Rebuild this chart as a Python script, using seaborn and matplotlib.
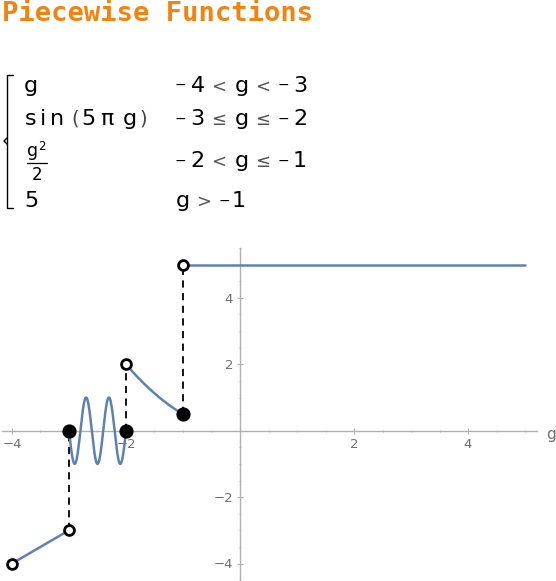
import numpy as np
import pandas as pd
import matplotlib
matplotlib.use("Agg")
import matplotlib.pyplot as plt
import seaborn as sns
from matplotlib.lines import Line2D
from matplotlib.ticker import MultipleLocator

# piece definitions (bounds, functions as printed in it)
piece_names = ["g", "sin(5πg)", "g²/2", "5"]
piece_start = [-4, -3, -2, -1]
piece_end = [-3, -2, -1, 5]
piece_funcs = [lambda g: g, lambda g: np.sin(5 * np.pi * g), lambda g: g ** 2 / 2, lambda g: 0 * g + 5]

# endpoint markers
open_x = [-4, -3, -2, -1]
open_y = [-4, -3, 2, 5]
closed_x = [-3, -2, -1]
closed_y = [0, 0, 0.5]

# jump connectors (x, y from, y to)
jump_x = [-3, -2, -1]
jump_lo = [-3, 0, 0.5]
jump_hi = [0, 2, 5]

# formula and condition text, split in tokens
value_rows = [["g"], ["s", "i", "n", "(", "5", "π", "g", ")"], None, ["5"]]
condition_rows = [["−", "4", "<", "g", "<", "−", "3"],
                  ["−", "3", "≤", "g", "≤", "−", "2"],
                  ["−", "2", "<", "g", "≤", "−", "1"],
                  ["g", ">", "−", "1"]]

line_color = "#5E81B5"
axis_gray = "#b0b0b0"
label_gray = "#6e6e6e"

rows = []
for name, a, b, f in zip(piece_names, piece_start, piece_end, piece_funcs):
    gs = np.linspace(a, b, 400)
    for gv, yv in zip(gs, f(gs)):
        rows.append({"piece": name, "g": gv, "y": yv})
curve_df = pd.DataFrame(rows)

sns.set_style("white")
W, H = 556, 581
fig = plt.figure(figsize=(W / 100, H / 100), dpi=100)


def ftext(xp, yp, s, size=16, color="black"):
    fig.text(xp / W, 1 - yp / H, s, fontsize=size, color=color, va="baseline", ha="center",
             family="DejaVu Sans")


def token(xp, base, tok):
    if tok == "−":
        ftext(xp, base - 2.5, tok, size=10)
    elif tok in "<>≤":
        ftext(xp, base, tok, size=13, color="#555555")
    elif tok in "()":
        ftext(xp, base, tok, size=14, color="#444444")
    else:
        ftext(xp, base, tok)


# title
fig.text(2 / W, 1 - 14 / H, "Piecewise Functions", family="DejaVu Sans Mono", fontweight="bold",
         fontsize=19.5, color="#F5820F", va="center", ha="left")

# piecewise formula block
row_base = [91.5, 125, 167, 207]
value_x = [[31], [31, 43, 57.5, 75, 88.5, 107, 130, 143.5], None, [31]]
for r in range(4):
    if value_rows[r] is None:
        continue
    for xp, tok in zip(value_x[r], value_rows[r]):
        token(xp, row_base[r], tok)
# fraction g^2 / 2
ftext(32.5, 156, "g", size=12.5)
ftext(42, 150, "2", size=8.5)
fig.add_artist(Line2D([27 / W, 47 / W], [1 - 162.5 / H, 1 - 162.5 / H], color="black", lw=0.9))
ftext(37.5, 180, "2", size=12)

cond_x5 = [180.3, 197.5, 219, 241.5, 262.5, 283, 300]
cond_x4 = [182.5, 204, 224, 239]
for r, toks in enumerate(condition_rows):
    xs = cond_x5 if len(toks) == 7 else cond_x4
    for xp, tok in zip(xs, toks):
        token(xp, row_base[r], tok)

# left brace
bx, bt, bb = 7, 75, 208
fig.add_artist(Line2D([13 / W, bx / W, bx / W, 13 / W], [1 - bt / H, 1 - bt / H, 1 - bb / H, 1 - bb / H],
                      color="black", lw=1))
fig.add_artist(Line2D([bx / W, 4 / W, bx / W], [1 - 138 / H, 1 - 141 / H, 1 - 144 / H], color="black", lw=1))

# plot area
x0_px, x1_px, y0_px, y1_px = 2, 537, 248, 581
ax = fig.add_axes([x0_px / W, 1 - y1_px / H, (x1_px - x0_px) / W, (y1_px - y0_px) / H])
sx, ox = 57.0, 240.0
sy, oy = 33.2, 430.7
ax.set_xlim((x0_px - ox) / sx, (x1_px - ox) / sx)
ax.set_ylim((oy - y1_px) / sy, (oy - y0_px) / sy)

sns.lineplot(data=curve_df, x="g", y="y", units="piece", estimator=None, sort=False,
             color=line_color, lw=1.8, ax=ax, zorder=3)

for xv, lo, hi in zip(jump_x, jump_lo, jump_hi):
    ax.plot([xv, xv], [lo, hi], color="black", lw=1.3, ls=(0, (4, 3)), zorder=2)

sns.scatterplot(x=closed_x, y=closed_y, s=85, color="black", edgecolor="black", linewidth=1, ax=ax, zorder=5)
sns.scatterplot(x=open_x, y=open_y, s=50, color="white", edgecolor="black", linewidth=2, ax=ax, zorder=5)

for side in ["top", "right"]:
    ax.spines[side].set_visible(False)
for side in ["left", "bottom"]:
    ax.spines[side].set_position(("data", 0))
    ax.spines[side].set_color(axis_gray)
    ax.spines[side].set_linewidth(1)

ax.xaxis.set_minor_locator(MultipleLocator(0.5))
ax.yaxis.set_minor_locator(MultipleLocator(0.5))
ax.set_xticks([-4, -2, 2, 4])
ax.set_yticks([-4, -2, 2, 4])
ax.set_xticklabels(["−4", "−2", "2", "4"])
ax.set_yticklabels(["−4", "−2", "2", "4"])
ax.tick_params(which="major", length=4, width=0.8, color=axis_gray, labelcolor=label_gray,
               labelsize=9.5, direction="inout", pad=3)
ax.tick_params(which="minor", length=2, width=0.6, color=axis_gray, direction="inout")
ax.tick_params(axis="both", which="both", left=True, bottom=True)
ax.set_xlabel("")
ax.set_ylabel("")
ax.patch.set_alpha(0)

fig.text(546 / W, 1 - 434 / H, "g", fontsize=11, color=label_gray, va="center", ha="left")

fig.savefig("out.png", dpi=100)
